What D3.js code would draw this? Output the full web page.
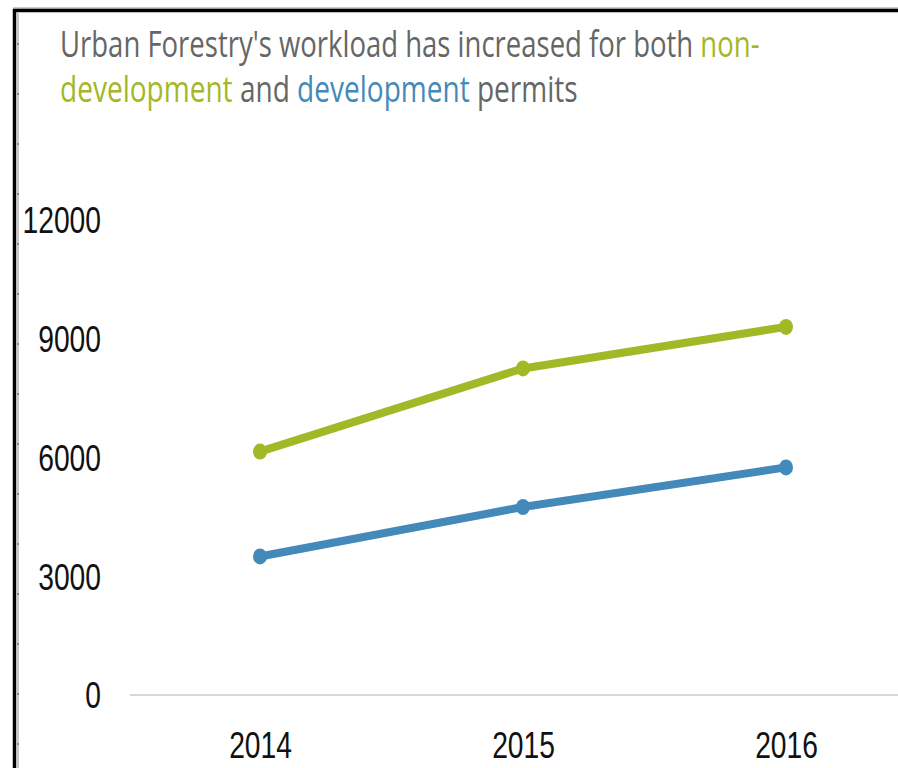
<!DOCTYPE html>
<html>
<head>
<meta charset="utf-8">
<script src="https://cdn.jsdelivr.net/npm/d3@7"></script>
<style>
  body { margin: 0; background: #fff; }
  .tick text { font-family: "Liberation Sans", "DejaVu Sans", sans-serif; }
</style>
</head>
<body>
<svg id="chart" width="898" height="768"></svg>
<script>
// values
const years = ["2014", "2015", "2016"];
const nonDevelopment = [6150, 8250, 9300];
const development = [3500, 4750, 5750];
const yTicks = [0, 3000, 6000, 9000, 12000];

const green = "#a3b827";
const blue = "#4389b9";
const titleGrey = "#666666";

const svg = d3.select("#chart");

// frame from the screenshot: thick black top/left edge + grey ruler line
svg.append("line").attr("x1", 13).attr("x2", 898).attr("y1", 8).attr("y2", 8)
   .attr("stroke", "#999").attr("stroke-width", 1);
svg.append("line").attr("x1", 13).attr("x2", 898).attr("y1", 10.5).attr("y2", 10.5)
   .attr("stroke", "#000").attr("stroke-width", 3.5);
svg.append("line").attr("x1", 14.5).attr("x2", 14.5).attr("y1", 9).attr("y2", 768)
   .attr("stroke", "#000").attr("stroke-width", 3.5);
svg.append("line").attr("x1", 18).attr("x2", 18).attr("y1", 12).attr("y2", 768)
   .attr("stroke", "#c8c8c8").attr("stroke-width", 2);
svg.selectAll("rect.rulertick")
   .data(d3.range(44, 768, 50))
   .join("rect")
   .attr("class", "rulertick")
   .attr("x", 17).attr("y", d => d - 1)
   .attr("width", 2).attr("height", 2)
   .attr("fill", "#888");

// scales
let x = d3.scalePoint().domain(years).range([260, 786]);
let y = d3.scaleLinear().domain([0, 12000]).range([695, 220]);

// condensed digits: the original face is much narrower than anything installed
const digitWidth = 15.7;
function squeeze(sel) {
  sel.each(function() {
    let w = this.getComputedTextLength();
    let n = this.textContent.length;
    d3.select(this).attr("transform", `scale(${n * digitWidth / w},1)`);
  });
}

// y axis: labels only, plus the zero baseline
let yAxis = svg.append("g")
   .attr("transform", "translate(101,0)")
   .call(d3.axisLeft(y).tickValues(yTicks).tickSize(0).tickPadding(0).tickFormat(d3.format("d")));
yAxis.select(".domain").remove();
yAxis.selectAll("text")
   .attr("font-size", 36)
   .attr("fill", "#111")
   .attr("dy", "0.36em")
   .call(squeeze);

svg.append("line")
   .attr("x1", 130).attr("x2", 898)
   .attr("y1", y(0)).attr("y2", y(0))
   .attr("stroke", "#d6d8d6").attr("stroke-width", 2);

// x axis: year labels only
let xAxis = svg.append("g")
   .attr("transform", "translate(0,732)")
   .call(d3.axisBottom(x).tickSize(0).tickPadding(0));
xAxis.select(".domain").remove();
xAxis.selectAll("text")
   .attr("font-size", 36)
   .attr("fill", "#111")
   .attr("dy", "0.72em")
   .call(squeeze);

// lines + markers
const series = [
  { values: nonDevelopment, color: green },
  { values: development, color: blue }
];

let line = d3.line()
   .x((d, i) => x(years[i]))
   .y(d => y(d));

series.forEach(s => {
  svg.append("path")
     .datum(s.values)
     .attr("fill", "none")
     .attr("stroke", s.color)
     .attr("stroke-width", 8)
     .attr("stroke-linejoin", "round")
     .attr("d", line);
  svg.selectAll(null)
     .data(s.values)
     .join("ellipse")
     .attr("cx", (d, i) => x(years[i]))
     .attr("cy", d => y(d))
     .attr("rx", 7)
     .attr("ry", 8)
     .attr("fill", s.color);
});

// title, two lines with coloured keywords
const titleLines = [
  { width: 700, parts: [["Urban Forestry's workload has increased for both ", titleGrey], ["non-", green]] },
  { width: 518, parts: [["development", green], [" and ", titleGrey], ["development", blue], [" permits", titleGrey]] }
];
const titleBaselines = [57, 102];

titleLines.forEach((ln, k) => {
  let t = svg.append("text")
     .attr("font-family", "'Open Sans', 'Noto Sans', sans-serif")
     .attr("font-size", 36)
     .attr("y", titleBaselines[k]);
  ln.parts.forEach(p => {
    t.append("tspan").attr("fill", p[1]).text(p[0]);
  });
  // squeeze to the narrower width of the original typeface
  let w = t.node().getComputedTextLength();
  t.attr("transform", `translate(60,0) scale(${ln.width / w},1)`);
});
</script>
</body>
</html>
